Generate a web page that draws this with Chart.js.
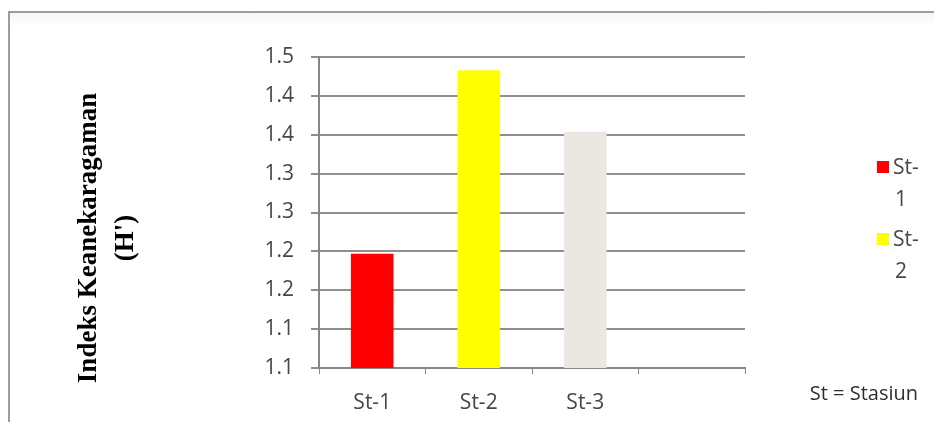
<!DOCTYPE html>
<html>
<head>
<meta charset="utf-8">
<script src="https://cdn.jsdelivr.net/npm/chart.js@4/dist/chart.umd.min.js"></script>
<style>
  html, body { margin: 0; padding: 0; background: #ffffff; }
  #wrap { position: relative; width: 934px; height: 422px; overflow: hidden; }
  #frame {
    position: absolute; left: 8px; top: 11px; width: 940px; height: 420px;
    border-left: 2px solid #9c9c9c; border-top: 2px solid #9c9c9c;
    background: linear-gradient(#f6f6f6, #ffffff 14px);
  }
  canvas { position: absolute; left: 0; top: 0; }
</style>
</head>
<body>
<div id="wrap">
  <div id="frame"></div>
  <canvas id="chart" width="934" height="422"></canvas>
</div>
<script>
// Stations and their diversity index H'
const CATEGORIES = ['St-1', 'St-2', 'St-3', ''];
const INDEX_VALUES = [1.247, 1.483, 1.404];
const BAR_COLORS = ['#ff0000', '#ffff00', '#eae8e1'];
// Axis labels as printed with one decimal (steps of 0.05 from 1.10 to 1.50)
const Y_TICK_LABELS = ['1.1', '1.1', '1.2', '1.2', '1.3', '1.3', '1.4', '1.4', '1.5'];
const Y_TITLE = ['Indeks Keanekaragaman', "(H')"];
const FOOTNOTE = 'St = Stasiun';
const LEGEND_COUNT = 2;

const LABEL_FONT = '"Open Sans", "Liberation Sans", sans-serif';
const TEXT_GRAY = '#474747';

// Y title, side legend and footnote drawn beside the plot
const extras = {
  id: 'extras',
  afterDraw(chart) {
    const ctx = chart.ctx;
    ctx.save();
    // rotated y-axis title
    ctx.font = 'bold 27px "Liberation Serif", "Times New Roman", serif';
    ctx.fillStyle = '#000000';
    ctx.textAlign = 'center';
    ctx.textBaseline = 'middle';
    const cy = 238;
    const xs = [89, 126];
    Y_TITLE.forEach((line, i) => {
      ctx.save();
      ctx.translate(xs[i], cy);
      ctx.rotate(-Math.PI / 2);
      ctx.fillText(line, 0, 0);
      ctx.restore();
    });

    // legend: colour swatch and wrapped label
    ctx.font = '21px ' + LABEL_FONT;
    ctx.textAlign = 'left';
    ctx.textBaseline = 'middle';
    const legendTops = [168, 240];
    for (let i = 0; i < LEGEND_COUNT; i++) {
      const y = legendTops[i];
      ctx.fillStyle = BAR_COLORS[i];
      ctx.fillRect(877, y - 7, 12, 12);
      ctx.fillStyle = TEXT_GRAY;
      const parts = CATEGORIES[i].split('-');
      ctx.fillText(parts[0] + '-', 893, y);
      ctx.fillText(parts[1], 895, y + 32);
    }

    // footnote
    ctx.font = '20px ' + LABEL_FONT;
    ctx.fillStyle = '#2e2e2e';
    ctx.textAlign = 'right';
    ctx.fillText(FOOTNOTE, 918, 394);
    ctx.restore();
  }
};

new Chart(document.getElementById('chart'), {
  type: 'bar',
  data: {
    labels: CATEGORIES,
    datasets: [{
      data: INDEX_VALUES,
      backgroundColor: BAR_COLORS,
      borderWidth: 0,
      barPercentage: 0.4,
      categoryPercentage: 1.0
    }]
  },
  options: {
    responsive: false,
    animation: false,
    devicePixelRatio: 1,
    layout: { padding: { left: 0, right: 189, top: 57, bottom: 0 } },
    plugins: {
      legend: { display: false },
      tooltip: { enabled: false }
    },
    scales: {
      x: {
        offset: true,
        grid: {
          offset: true,
          drawOnChartArea: false,
          drawTicks: true,
          tickLength: 6,
          color: '#868686',
          lineWidth: 1
        },
        border: { display: true, color: '#868686', width: 2 },
        ticks: {
          color: TEXT_GRAY,
          font: { family: LABEL_FONT, size: 21 },
          padding: 16,
          maxRotation: 0
        },
        afterFit(scale) { scale.height = 54; }
      },
      y: {
        min: 1.1,
        max: 1.5,
        grid: {
          color: '#8e8e8e',
          lineWidth: 2,
          drawTicks: true,
          tickLength: 8
        },
        border: { display: true, color: '#868686', width: 2 },
        ticks: {
          stepSize: 0.05,
          color: TEXT_GRAY,
          font: { family: LABEL_FONT, size: 21 },
          padding: 17,
          callback: (v, i) => Y_TICK_LABELS[i]
        },
        afterFit(scale) { scale.width = 319; }
      }
    }
  },
  plugins: [extras]
});
</script>
</body>
</html>
